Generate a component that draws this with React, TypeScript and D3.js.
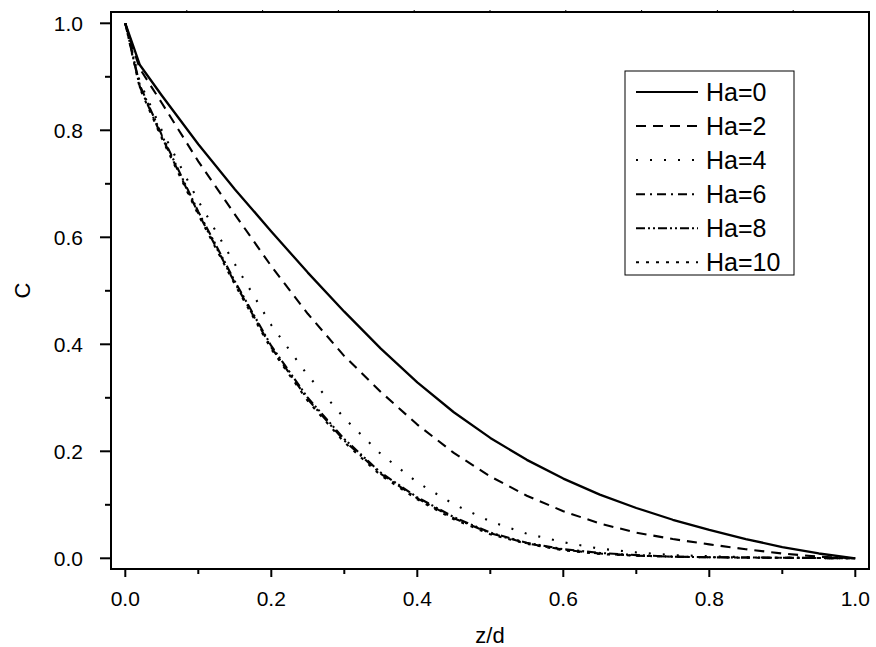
import React from "react";
import * as d3 from "d3";

const zValues = [0, 0.01, 0.02, 0.05, 0.1, 0.15, 0.2, 0.25, 0.3, 0.35, 0.4, 0.45, 0.5, 0.55, 0.6, 0.65, 0.7, 0.75, 0.8, 0.85, 0.9, 0.95, 1.0];

const ha0 = [1.0, 0.961, 0.922, 0.865, 0.774, 0.69, 0.611, 0.534, 0.461, 0.392, 0.329, 0.273, 0.225, 0.184, 0.149, 0.119, 0.094, 0.072, 0.053, 0.036, 0.021, 0.009, 0.0];
const ha2 = [1.0, 0.955, 0.915, 0.851, 0.742, 0.643, 0.546, 0.457, 0.378, 0.311, 0.25, 0.197, 0.153, 0.117, 0.088, 0.065, 0.048, 0.036, 0.026, 0.017, 0.009, 0.003, 0.0];
const ha4 = [1.0, 0.945, 0.89, 0.8, 0.668, 0.55, 0.436, 0.342, 0.262, 0.195, 0.142, 0.101, 0.069, 0.046, 0.03, 0.018, 0.011, 0.006, 0.004, 0.002, 0.001, 0.0005, 0.0];
const ha6 = [1.0, 0.94, 0.881, 0.788, 0.645, 0.515, 0.394, 0.297, 0.22, 0.158, 0.112, 0.075, 0.047, 0.028, 0.016, 0.009, 0.005, 0.003, 0.002, 0.0015, 0.001, 0.0005, 0.0];
const ha8 = [1.0, 0.942, 0.884, 0.791, 0.648, 0.518, 0.397, 0.3, 0.223, 0.16, 0.114, 0.077, 0.048, 0.029, 0.017, 0.01, 0.006, 0.003, 0.002, 0.0015, 0.001, 0.0005, 0.0];
const ha10 = [1.0, 0.938, 0.878, 0.785, 0.642, 0.512, 0.391, 0.294, 0.217, 0.155, 0.11, 0.073, 0.045, 0.027, 0.015, 0.008, 0.005, 0.003, 0.002, 0.001, 0.001, 0.0005, 0.0];

const seriesLabels = ["Ha=0", "Ha=2", "Ha=4", "Ha=6", "Ha=8", "Ha=10"];
const seriesValues = [ha0, ha2, ha4, ha6, ha8, ha10];
const dashStyles = ["none", "10,7", "2,12", "9,5,2,5", "9,3,2,3,2,3", "3,7"];

const xTicks = [0, 0.2, 0.4, 0.6, 0.8, 1.0];
const xMinorTicks = [0.1, 0.3, 0.5, 0.7, 0.9];
const yTicks = [0, 0.2, 0.4, 0.6, 0.8, 1.0];
const yMinorTicks = [0.1, 0.3, 0.5, 0.7, 0.9];

const W = 876;
const H = 647;
const frame = { left: 111, top: 12, right: 869, bottom: 569 };

export default function App() {
  const x = d3.scaleLinear().domain([0, 1]).range([125.3, 855.3]);
  const y = d3.scaleLinear().domain([0, 1]).range([558.3, 23.3]);
  const line = d3
    .line<[number, number]>()
    .x((d) => x(d[0]))
    .y((d) => y(d[1]))
    .curve(d3.curveLinear);

  const topTicks = d3.range(1, 10).map((i) => frame.left + ((frame.right - frame.left) * i) / 10);
  const font = "'Liberation Sans', Arial, sans-serif";
  const legendX = 625;
  const legendY = 71;
  const legendW = 169;
  const legendH = 204;
  const rowY = (i: number) => 92 + i * 34.06;

  return (
    <svg width={W} height={H} style={{ position: "absolute", left: 0, top: 0, background: "#fff" }} fontFamily={font}>
      <rect x={0} y={0} width={W} height={H} fill="#fff" />
      <rect x={frame.left} y={frame.top} width={frame.right - frame.left} height={frame.bottom - frame.top} fill="none" stroke="#000" strokeWidth={2} />
      {topTicks.map((t, i) => (
        <line key={"tt" + i} x1={t} x2={t} y1={frame.top} y2={frame.top - 2} stroke="#000" strokeWidth={1} />
      ))}
      {xTicks.map((t) => (
        <g key={"xt" + t}>
          <line x1={x(t)} x2={x(t)} y1={frame.bottom} y2={frame.bottom + 8} stroke="#000" strokeWidth={2} />
          <text x={x(t)} y={606} fontSize={21} textAnchor="middle" fill="#000">
            {t.toFixed(1)}
          </text>
        </g>
      ))}
      {xMinorTicks.map((t) => (
        <line key={"xm" + t} x1={x(t)} x2={x(t)} y1={frame.bottom} y2={frame.bottom + 5} stroke="#000" strokeWidth={2} />
      ))}
      {yTicks.map((t) => (
        <g key={"yt" + t}>
          <line x1={frame.left} x2={frame.left - 11} y1={y(t)} y2={y(t)} stroke="#000" strokeWidth={2} />
          <text x={83} y={y(t)} dy="0.36em" fontSize={21} textAnchor="end" fill="#000">
            {t.toFixed(1)}
          </text>
        </g>
      ))}
      {yMinorTicks.map((t) => (
        <line key={"ym" + t} x1={frame.left} x2={frame.left - 6} y1={y(t)} y2={y(t)} stroke="#000" strokeWidth={2} />
      ))}
      <text x={490} y={643} fontSize={22} textAnchor="middle" fill="#000">z/d</text>
      <text transform={`translate(30,290.5) rotate(-90)`} fontSize={22} textAnchor="middle" fill="#000">C</text>
      {seriesValues.map((vals, si) => (
        <path
          key={"s" + si}
          d={line(zValues.map((z, i) => [z, vals[i]] as [number, number])) || ""}
          fill="none"
          stroke="#000"
          strokeWidth={si === 0 ? 2.3 : 2.1}
          strokeLinejoin="round"
          strokeDasharray={dashStyles[si] === "none" ? undefined : dashStyles[si]}
        />
      ))}
      <rect x={legendX} y={legendY} width={legendW} height={legendH} fill="#fff" stroke="#000" strokeWidth={1} />
      {seriesLabels.map((lab, i) => (
        <g key={"lg" + i}>
          <line
            x1={636}
            x2={698}
            y1={rowY(i)}
            y2={rowY(i)}
            stroke="#000"
            strokeWidth={2}
            strokeDasharray={dashStyles[i] === "none" ? undefined : dashStyles[i]}
          />
          <text x={706} y={rowY(i)} dy="0.36em" fontSize={25} fill="#000">
            {lab}
          </text>
        </g>
      ))}
    </svg>
  );
}
